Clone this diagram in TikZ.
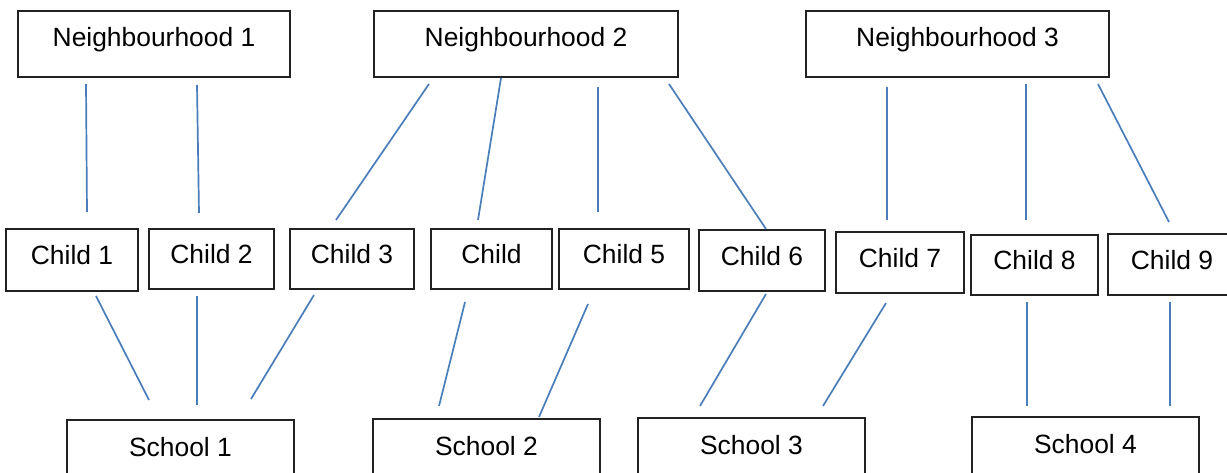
\documentclass[tikz,border=0pt]{standalone}
\usepackage{fontspec}
\setmainfont{Liberation Sans}
\definecolor{linkblue}{HTML}{4A7EBB}
\definecolor{boxline}{HTML}{222222}
\begin{document}
\begin{tikzpicture}[x=1pt,y=-1pt,
  box/.style={draw=boxline,line width=1.4pt,rectangle,inner sep=0pt,
    font=\fontsize{26.4pt}{31pt}\selectfont,text height=19pt,text depth=13pt,
    minimum height=66pt},
  kid/.style={box,text depth=9pt},
  link/.style={draw=linkblue,line width=1.7pt}]
\useasboundingbox (0,0) rectangle (1227,473);
\clip (0,0) rectangle (1227,473);

% neighbourhoods
\node[box,minimum width=272pt] (n1) at (154,44) {Neighbourhood 1};
\node[box,minimum width=304pt] (n2) at (526,44) {Neighbourhood 2};
\node[box,minimum width=303pt] (n3) at (957.5,44) {Neighbourhood 3};

% children
\node[kid,minimum width=132pt,minimum height=62pt] (c1) at (72,260) {Child 1};
\node[kid,minimum width=125pt,minimum height=60pt] (c2) at (211.5,259) {Child 2};
\node[kid,minimum width=124pt,minimum height=60pt] (c3) at (352,259) {Child 3};
\node[kid,minimum width=121pt,minimum height=60pt] (c4) at (491.5,259) {Child};
\node[kid,minimum width=130pt,minimum height=60pt] (c5) at (624,259) {Child 5};
\node[kid,minimum width=126pt,minimum height=61pt] (c6) at (762,260.5) {Child 6};
\node[kid,minimum width=128pt,minimum height=61pt] (c7) at (900,262.5) {Child 7};
\node[kid,minimum width=127pt,minimum height=60pt] (c8) at (1034.5,265) {Child 8};
\node[kid,minimum width=128pt,minimum height=61pt] (c9) at (1172,264.5) {Child 9};

% schools
\node[box,minimum width=227pt] (s1) at (180.5,453) {School 1};
\node[box,minimum width=227pt] (s2) at (486.5,452) {School 2};
\node[box,minimum width=227pt] (s3) at (751.5,451) {School 3};
\node[box,minimum width=227pt] (s4) at (1085.5,450) {School 4};

% links: neighbourhood -> child, child -> school (free-standing segments)
\foreach \nm/\ax/\ay/\bx/\by in {
    n1c1/86/84/87/212, n1c2/197/85/199/213,
    n2c3/429/84/336/220, n2c4/501/78/478/220, n2c5/598/87/598/212, n2c6/669/84/766/229,
    n3c7/887/87/887/220, n3c8/1026/84/1026/220, n3c9/1098/84/1169/222,
    c1s1/96/296/149/400, c2s1/197/296/197/405, c3s1/314/295/251/399,
    c4s2/465/302/439/406, c5s2/588/304/539/417,
    c6s3/766/294/700/406, c7s3/886/303/823/406,
    c8s4/1027/302/1027/406, c9s4/1170/302/1170/406}{
  \coordinate (\nm-a) at (\ax,\ay);
  \coordinate (\nm-b) at (\bx,\by);
  \draw[link] (\nm-a) -- (\nm-b);
}
\end{tikzpicture}
\end{document}
